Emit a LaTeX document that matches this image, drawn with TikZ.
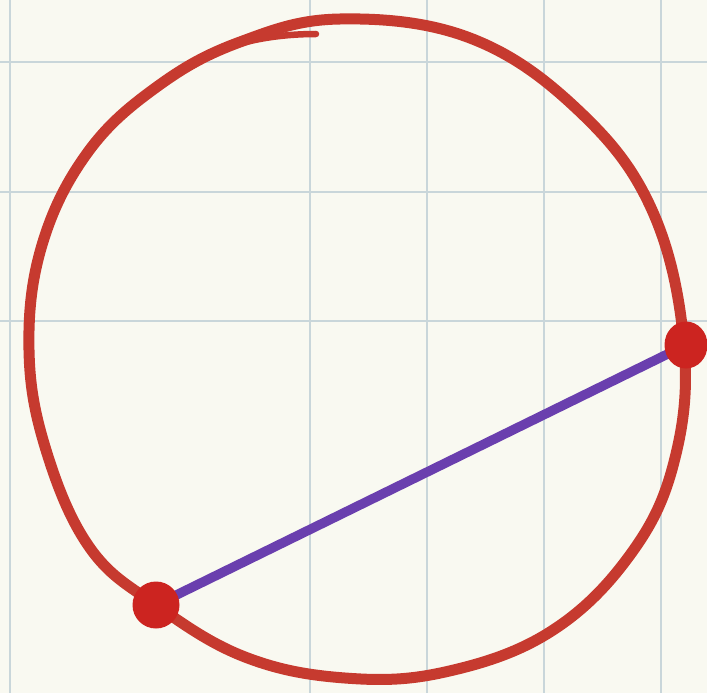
\documentclass[tikz,border=0pt]{standalone}
\usetikzlibrary{shapes.geometric}
\definecolor{paper}{HTML}{F9F9F1}
\definecolor{gridc}{HTML}{C9D6DA}
\definecolor{ringred}{HTML}{C63A2F}
\definecolor{dotred}{HTML}{CC2420}
\definecolor{chordc}{HTML}{6A3FAE}
\tikzset{
  gridline/.style={draw=gridc, line width=1.6pt},
  ring/.style={draw=ringred, line width=11pt, line join=round, line cap=round},
  chord/.style={draw=chordc, line width=9.5pt, line cap=round},
  dotnode/.style={ellipse, fill=dotred, inner sep=0pt, minimum width=47pt, minimum height=47pt}
}
\begin{document}
\begin{tikzpicture}[x=1pt,y=-1pt]
\fill[paper] (0,0) rectangle (707,693);
\useasboundingbox (0,0) rectangle (707,693);
% grid
\foreach \gx in {10,310,427,544,661} \draw[gridline] (\gx,0) -- (\gx,693);
\foreach \gy in {62,192,321} \draw[gridline] (0,\gy) -- (707,\gy);
% hand-drawn ring
\draw[ring] plot[smooth cycle, tension=0.65] coordinates {
 (340,19) (470,38) (578,110) (652,210) (684,345) (674,462) (630,555)
 (550,632) (445,672) (345,678) (245,657) (156,605) (90,548) (46,450)
 (29,350) (42,245) (88,152) (158,86) (240,42)};
\draw[ringred, line width=6.5pt, line cap=round] (316,34) .. controls (280,34) and (245,40) .. (222,50);
% chord
\coordinate (pA) at (156,605);
\coordinate (pB) at (686,345);
\draw[chord] (pA) -- (pB);
\node[dotnode] (dA) at (pA) {};
\node[dotnode, minimum width=43pt, minimum height=47pt] (dB) at (pB) {};
\end{tikzpicture}
\end{document}
